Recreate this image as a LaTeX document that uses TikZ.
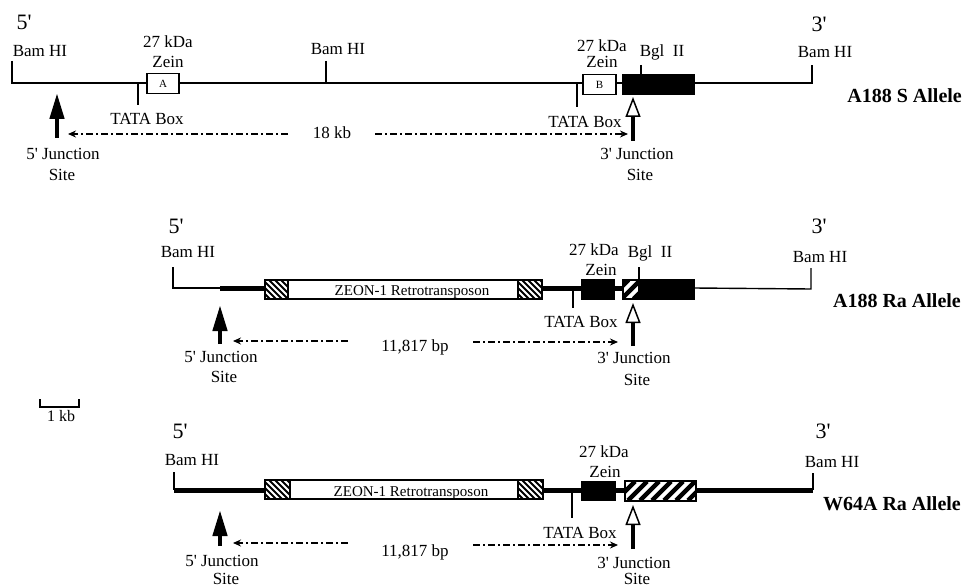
\documentclass[tikz,border=0pt]{standalone}
\usepackage{fontspec}
\setmainfont{Liberation Serif}
\usetikzlibrary{arrows.meta}
\newcommand{\pr}{\textquotesingle}
\begin{document}
\begin{tikzpicture}[x=1pt,y=-1pt,
  thindna/.style={line width=1.4pt},
  thickdna/.style={line width=5pt},
  tickline/.style={line width=1.4pt},
  lbl/.style={font=\fontsize{17}{20}\selectfont, inner sep=0, anchor=base},
  tplbl/.style={font=\fontsize{15}{18}\selectfont, inner sep=0, anchor=base},
  primelbl/.style={font=\fontsize{22}{24}\selectfont, inner sep=0, anchor=base},
  allele/.style={font=\bfseries\fontsize{20}{22}\selectfont, inner sep=0, anchor=base east},
  genebox/.style={draw, line width=1.4pt, inner sep=0, minimum height=20pt},
  whitebox/.style={genebox, fill=white, font=\fontsize{11}{12}\selectfont},
  blackbox/.style={genebox, fill=black},
  plainbox/.style={genebox, minimum height=19pt, fill=white},
  ltrstripe/.style={line width=2pt},
  widestripe/.style={line width=4.3pt},
  boxedge/.style={line width=1.4pt},
  jfive/.style={line width=4.5pt, -{Triangle[length=26pt,width=14pt]}},
  jthree/.style={line width=3.5pt, -{Triangle[open,length=20pt,width=15pt,line width=1.5pt]}},
  ddarrow/.style={line width=1.2pt, dash pattern=on 7pt off 3pt on 2pt off 3pt, -{Stealth[length=8pt,width=7pt]}}
]
\useasboundingbox (0,0) rectangle (965,588);

% ================= Row 1: A188 S Allele =================
\coordinate (r1Lt) at (12,61); \coordinate (r1L) at (12,83);
\coordinate (r1R) at (812,83); \coordinate (r1Rt) at (812,65);
\draw[thindna] (r1Lt) -- (r1L) -- (r1R) -- (r1Rt);
\coordinate (t1a) at (138,83); \coordinate (t1b) at (138,105);
\draw[tickline] (t1a) -- (t1b);
\coordinate (bm1a) at (326,61); \coordinate (bm1b) at (326,83);
\draw[tickline] (bm1a) -- (bm1b);
\coordinate (t2a) at (577,83); \coordinate (t2b) at (577,107);
\draw[tickline] (t2a) -- (t2b);
\node[whitebox, minimum width=32pt] (boxA) at (163,83.5) {A};
\node[whitebox, minimum width=33pt] (boxB) at (599.5,84.5) {B};
\node[blackbox, minimum width=71pt] (blk1) at (658.5,84.5) {};
\coordinate (bg1) at (641,65);
\draw[tickline] (bg1) -- (bg1 |- blk1.north);

\node[primelbl] (p5a) at (24,30) {5\pr};
\node[lbl] (bam1a) at (40,57) {Bam HI};
\node[lbl] (kda1a) at (168,48) {27 kDa};
\node[lbl] (zein1a) at (168,68) {Zein};
\node[lbl] (bam1b) at (338,55) {Bam HI};
\node[lbl] (tata1a) at (147,125) {TATA Box};
\node[lbl] (kb18) at (332,139) {18 kb};
\node[lbl] (kda1b) at (602,52) {27 kDa};
\node[lbl] (zein1b) at (602,68) {Zein};
\node[lbl] (bgl1) at (662,57) {Bgl\hspace{0.5em}II};
\node[lbl] (tata1b) at (585,128) {TATA Box};
\node[primelbl] (p3a) at (819,32) {3\pr};
\node[lbl] (bam1c) at (825,58) {Bam HI};
\node[allele] (al1) at (962,103) {A188 S Allele};
\node[lbl] (j5a) at (63,160) {5\pr{} Junction};
\node[lbl] (s5a) at (62,180) {Site};
\node[lbl] (j3a) at (637,160) {3\pr{} Junction};
\node[lbl] (s3a) at (640,180) {Site};

\coordinate (a5a0) at (57,138); \coordinate (a5a1) at (57,93);
\draw[jfive] (a5a0) -- (a5a1);
\coordinate (a3a0) at (633,141); \coordinate (a3a1) at (633,97);
\draw[jthree] (a3a0) -- (a3a1);
\coordinate (d1a) at (288,134); \coordinate (d1b) at (68,134);
\draw[ddarrow] (d1a) -- (d1b);
\coordinate (d1c) at (375,134); \coordinate (d1d) at (628,134);
\draw[ddarrow] (d1c) -- (d1d);

% ================= Row 2: A188 Ra Allele =================
\coordinate (r2Lt) at (173,267); \coordinate (r2L) at (173,288);
\coordinate (r2k) at (220,288); \coordinate (r2m) at (694,288);
\coordinate (r2R) at (811,289); \coordinate (r2Rt) at (811,268);
\draw[thindna] (r2Lt) -- (r2L) -- (r2k);
\draw[thindna] (r2m) -- (r2R) -- (r2Rt);
\draw[thickdna] (r2k) -- (r2m);
\coordinate (t3a) at (573,288); \coordinate (t3b) at (573,308);
\draw[tickline] (t3a) -- (t3b);
\node[plainbox, minimum width=277pt] (tp2) at (403.5,289.5) {};
\node[plainbox, minimum width=23pt] (ltr2a) at (276.5,289.5) {};
\node[plainbox, minimum width=24pt] (ltr2b) at (530,289.5) {};
\begin{scope}
  \clip (ltr2a.south west) rectangle (ltr2a.north east);
  \foreach \s in {245,251,...,290} \draw[ltrstripe] (\s,280) -- ++(19,19);
\end{scope}
\begin{scope}
  \clip (ltr2b.south west) rectangle (ltr2b.north east);
  \foreach \s in {498,504,...,545} \draw[ltrstripe] (\s,280) -- ++(19,19);
\end{scope}
\draw[boxedge] (ltr2a.south west) rectangle (ltr2a.north east);
\draw[boxedge] (ltr2b.south west) rectangle (ltr2b.north east);
\node[tplbl] (tpt2) at (412,295) {ZEON-1 Retrotransposon};
\node[blackbox, minimum width=32pt, minimum height=19pt] (zb2) at (598,289.5) {};
\node[plainbox, minimum width=16pt] (hb2) at (631,289.5) {};
\begin{scope}
  \clip (hb2.south west) rectangle (hb2.north east);
  \foreach \s in {609.5,621.5,633.5} \draw[widestripe] (\s,299) -- ++(19,-19);
\end{scope}
\draw[boxedge] (hb2.south west) rectangle (hb2.north east);
\node[blackbox, minimum width=55pt, minimum height=19pt] (blk2) at (666.5,289.5) {};
\coordinate (bg2) at (639,267);
\draw[tickline] (bg2) -- (bg2 |- blk2.north);

\node[primelbl] (p5b) at (176,233) {5\pr};
\node[lbl] (bam2a) at (188,257) {Bam HI};
\node[lbl] (kda2) at (594,255) {27 kDa};
\node[lbl] (zein2) at (601,275) {Zein};
\node[lbl] (bgl2) at (650,257) {Bgl\hspace{0.5em}II};
\node[lbl] (tata2) at (581,327) {TATA Box};
\node[primelbl] (p3b) at (819,233) {3\pr};
\node[lbl] (bam2b) at (820,262) {Bam HI};
\node[allele] (al2) at (961,307) {A188 Ra Allele};
\node[lbl] (j5b) at (221,362) {5\pr{} Junction};
\node[lbl] (s5b) at (224,382) {Site};
\node[lbl] (j3b) at (634,363) {3\pr{} Junction};
\node[lbl] (s3b) at (637,385) {Site};
\node[lbl] (bp2) at (415,351) {11,817 bp};

\coordinate (a5b0) at (220,344); \coordinate (a5b1) at (220,305);
\draw[jfive] (a5b0) -- (a5b1);
\coordinate (a3b0) at (633,346); \coordinate (a3b1) at (633,303);
\draw[jthree] (a3b0) -- (a3b1);
\coordinate (d2a) at (348,341); \coordinate (d2b) at (233,341);
\draw[ddarrow] (d2a) -- (d2b);
\coordinate (d2c) at (473,342); \coordinate (d2d) at (618,342);
\draw[ddarrow] (d2c) -- (d2d);

% ================= Scale bar =================
\coordinate (sb1) at (40,399); \coordinate (sb2) at (40,407);
\coordinate (sb3) at (79,407); \coordinate (sb4) at (79,399);
\draw[tickline] (sb1) -- (sb2) -- (sb3) -- (sb4);
\node[lbl, font=\fontsize{16}{18}\selectfont] (kb1) at (61,421) {1 kb};

% ================= Row 3: W64A Ra Allele =================
\coordinate (r3Lt) at (174,472); \coordinate (r3L) at (174,490);
\coordinate (r3R) at (813,490); \coordinate (r3Rt) at (813,473);
\draw[thindna] (r3Lt) -- (r3L);
\draw[thindna] (r3R) -- (r3Rt);
\draw[thickdna] (r3L) -- (r3R);
\coordinate (t4a) at (572,490); \coordinate (t4b) at (572,518);
\draw[tickline] (t4a) -- (t4b);
\node[plainbox, minimum width=278pt] (tp3) at (404,489.5) {};
\node[plainbox, minimum width=25pt] (ltr3a) at (277.5,489.5) {};
\node[plainbox, minimum width=25pt] (ltr3b) at (530.5,489.5) {};
\begin{scope}
  \clip (ltr3a.south west) rectangle (ltr3a.north east);
  \foreach \s in {245,251,...,292} \draw[ltrstripe] (\s,480) -- ++(19,19);
\end{scope}
\begin{scope}
  \clip (ltr3b.south west) rectangle (ltr3b.north east);
  \foreach \s in {498,504,...,545} \draw[ltrstripe] (\s,480) -- ++(19,19);
\end{scope}
\draw[boxedge] (ltr3a.south west) rectangle (ltr3a.north east);
\draw[boxedge] (ltr3b.south west) rectangle (ltr3b.north east);
\node[tplbl] (tpt3) at (411,496) {ZEON-1 Retrotransposon};
\node[blackbox, minimum width=33pt, minimum height=19pt] (zb3) at (598.5,491) {};
\node[plainbox, minimum width=71pt] (hb3) at (660.5,491) {};
\begin{scope}
  \clip (hb3.south west) rectangle (hb3.north east);
  \foreach \s in {604,616,...,700} \draw[widestripe] (\s,500.5) -- ++(19,-19);
\end{scope}
\draw[boxedge] (hb3.south west) rectangle (hb3.north east);

\node[primelbl] (p5c) at (180,438) {5\pr};
\node[lbl] (bam3a) at (192,465) {Bam HI};
\node[lbl] (kda3) at (604,457) {27 kDa};
\node[lbl] (zein3) at (605,477) {Zein};
\node[lbl] (tata3) at (580,538) {TATA Box};
\node[primelbl] (p3c) at (823,438) {3\pr};
\node[lbl] (bam3b) at (832,467) {Bam HI};
\node[allele] (al3) at (961,510) {W64A Ra Allele};
\node[lbl] (j5c) at (222,566) {5\pr{} Junction};
\node[lbl] (s5c) at (226,584) {Site};
\node[lbl] (j3c) at (634,568) {3\pr{} Junction};
\node[lbl] (s3c) at (637,584) {Site};
\node[lbl] (bp3) at (415,556) {11,817 bp};

\coordinate (a5c0) at (220,546); \coordinate (a5c1) at (220,510);
\draw[jfive] (a5c0) -- (a5c1);
\coordinate (a3c0) at (633,549); \coordinate (a3c1) at (633,505);
\draw[jthree] (a3c0) -- (a3c1);
\coordinate (d3a) at (348,543); \coordinate (d3b) at (233,543);
\draw[ddarrow] (d3a) -- (d3b);
\coordinate (d3c) at (473,545); \coordinate (d3d) at (618,545);
\draw[ddarrow] (d3c) -- (d3d);
\end{tikzpicture}
\end{document}
